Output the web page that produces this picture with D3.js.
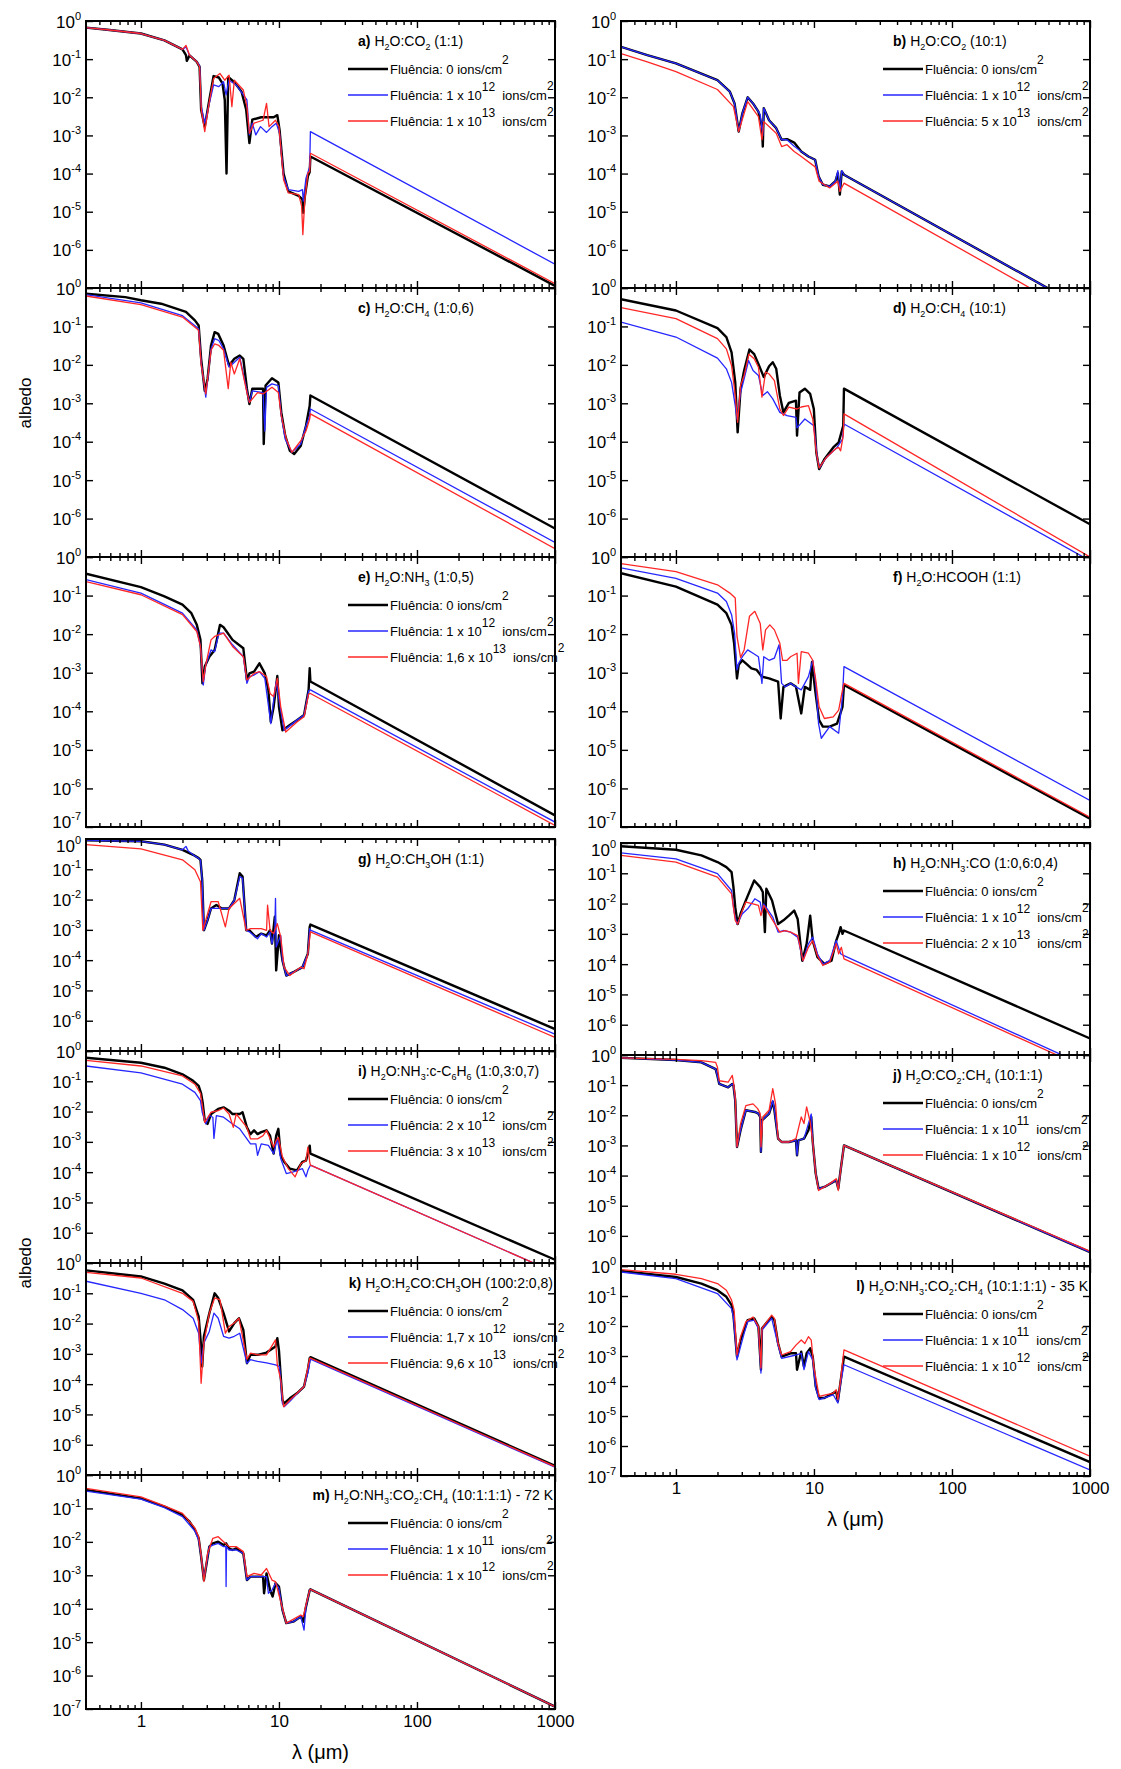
<!DOCTYPE html>
<html>
<head>
<meta charset="utf-8">
<script src="https://cdn.jsdelivr.net/npm/d3@7"></script>
<style>
  body { margin: 0; background: #fff; }
  svg { font-family: "Liberation Sans", Arial, Helvetica, sans-serif; }
  .frame { fill: none; stroke: #000; stroke-width: 2; }
  .ticks .domain { display: none; }
  .ticks line { stroke: #000; stroke-width: 1.4; }
  .series { fill: none; stroke-linejoin: round; }
</style>
</head>
<body>
<svg id="chart" width="1121" height="1769"></svg>
<script>
// [wavelength (um), albedo]
const aBlack = [[0.4,0.67],[0.57,0.59],[1.0,0.47],[1.48,0.31],[2.0,0.18],[2.12,0.127],[2.15,0.09],[2.25,0.125],[2.54,0.085],[2.66,0.063],[2.73,0.0047],[2.9,0.0017],[3.13,0.0085],[3.36,0.036],[3.67,0.033],[3.9,0.023],[4.05,0.0085],[4.17,1.0e-4],[4.29,0.034],[4.75,0.025],[5.36,0.014],[5.79,0.0047],[6.11,6.3e-4],[6.41,0.0026],[7.44,0.003],[9.15,0.003],[9.73,0.0034],[10.1,0.0014],[10.8,1.0e-4],[11.7,3.4e-5],[13.9,2.6e-5],[14.8,2.1e-5],[15.0,9.3e-6],[15.4,2.5e-5],[16.2,8.5e-5],[16.7,1.1e-4],[16.9,2.8e-4],[1000,1.14e-7]];
const aBlue = [[0.4,0.67],[0.57,0.59],[1.0,0.47],[1.48,0.31],[2.0,0.18],[2.12,0.21],[2.25,0.127],[2.54,0.085],[2.66,0.07],[2.74,0.0057],[2.9,0.0021],[3.13,0.0069],[3.36,0.021],[3.67,0.019],[3.97,0.0255],[4.14,0.0115],[4.35,0.028],[4.9,0.021],[5.52,0.0115],[5.86,0.0085],[6.11,0.00103],[6.41,0.0021],[6.8,0.00103],[7.35,0.0017],[8.13,0.0012],[8.9,0.0017],[9.55,0.0021],[10.1,0.00114],[10.8,8.5e-5],[11.7,3.8e-5],[13.9,3.4e-5],[14.8,3.8e-5],[15.0,1.9e-5],[15.7,7.6e-5],[16.7,1.5e-4],[16.9,1.26e-3],[1000,4.2e-7]];
const aRed = [[0.4,0.67],[0.57,0.59],[1.0,0.47],[1.48,0.31],[2.0,0.18],[2.12,0.23],[2.25,0.127],[2.54,0.085],[2.66,0.063],[2.74,0.0047],[2.9,0.00126],[3.13,0.0077],[3.36,0.031],[3.74,0.042],[4.05,0.028],[4.35,0.038],[4.56,0.0057],[4.75,0.028],[5.52,0.0155],[5.86,0.0057],[6.11,0.00114],[6.6,0.0021],[7.67,0.0025],[8.13,0.0069],[8.48,0.0017],[9.44,0.0025],[10.0,0.0017],[10.8,6.9e-5],[11.7,3.1e-5],[13.9,2.8e-5],[14.6,1.4e-5],[14.9,2.5e-6],[15.4,2.1e-5],[16.2,1.03e-4],[16.7,1.14e-4],[16.9,3.4e-4],[1000,1.3e-7]];

const bBlack = [[0.4,0.21],[0.62,0.127],[1.0,0.077],[2.0,0.028],[2.46,0.014],[2.66,0.0069],[2.85,0.00126],[3.03,0.0038],[3.31,0.01],[3.62,0.0069],[3.96,0.0042],[4.2,0.0017],[4.26,5.1e-4],[4.33,0.0052],[4.73,0.0025],[5.33,0.00155],[5.83,7.7e-4],[6.38,8e-4],[7.19,6.5e-4],[8.09,3.8e-4],[9.12,2.8e-4],[10.2,2.3e-4],[10.8,8.5e-5],[11.6,5.1e-5],[13.0,4.6e-5],[14.3,6.3e-5],[14.9,1.03e-4],[15.4,2.8e-5],[15.9,1.14e-4],[16.5,9.3e-5],[1000,2.4e-8]];
const bBlue = [[0.4,0.21],[0.62,0.127],[1.0,0.077],[2.0,0.028],[2.46,0.014],[2.66,0.0069],[2.85,0.00126],[3.03,0.0038],[3.31,0.01],[3.62,0.0069],[3.96,0.0042],[4.08,0.0035],[4.2,0.0015],[4.26,0.001],[4.33,0.0052],[4.73,0.0025],[5.33,0.00155],[5.83,7.7e-4],[6.38,7.7e-4],[7.19,5.2e-4],[8.09,3.8e-4],[9.12,2.8e-4],[10.2,2.3e-4],[10.8,8.5e-5],[11.6,5.1e-5],[13.0,4.6e-5],[14.3,6.3e-5],[14.9,1.2e-4],[15.4,3.5e-5],[15.9,1.2e-4],[16.5,9.3e-5],[1000,2.4e-8]];
const bRed = [[0.4,0.14],[0.62,0.085],[1.0,0.047],[2.0,0.016],[2.61,0.0057],[2.85,0.00126],[3.31,0.0077],[3.96,0.0031],[4.2,7.7e-4],[4.33,0.0023],[5.33,0.00114],[5.83,5.1e-4],[6.38,5.7e-4],[7.19,3.8e-4],[8.09,2.8e-4],[10.2,1.5e-4],[10.9,6.3e-5],[13.0,4.2e-5],[14.9,6.3e-5],[15.4,3.4e-5],[16.5,5.6e-5],[1000,1.3e-8]];

const cBlack = [[0.4,0.71],[0.77,0.58],[1.0,0.48],[1.4,0.39],[2.12,0.24],[2.46,0.144],[2.62,0.106],[2.73,0.0144],[2.9,0.0021],[3.04,0.0043],[3.22,0.032],[3.42,0.071],[3.63,0.064],[3.97,0.032],[4.35,0.0096],[4.75,0.0144],[5.2,0.0175],[5.52,0.0144],[5.86,0.0024],[6.11,0.00096],[6.41,0.0024],[7.0,0.0024],[7.67,0.0024],[7.76,8.7e-5],[8.0,0.0029],[8.9,0.0045],[9.9,0.0035],[10.4,5.8e-4],[11.1,1.44e-4],[12.0,5.8e-5],[12.9,4.8e-5],[14.4,7.9e-5],[15.7,2.6e-4],[16.7,8.7e-4],[16.9,1.6e-3],[1000,5.5e-7]];
const cBlue = [[0.4,0.67],[1.0,0.41],[2.0,0.19],[2.62,0.087],[2.73,0.0117],[2.95,0.00144],[3.22,0.026],[3.42,0.048],[3.67,0.043],[3.97,0.026],[4.35,0.0087],[5.2,0.0158],[5.86,0.0021],[6.11,0.00106],[6.41,0.0021],[7.67,0.0019],[7.9,1.9e-4],[8.13,0.0026],[8.9,0.0032],[9.9,0.0029],[10.4,4.8e-4],[11.1,1.17e-4],[12.4,5.3e-5],[14.4,8.7e-5],[15.7,2.6e-4],[16.7,4.8e-4],[16.9,7.1e-4],[1000,2.4e-7]];
const cRed = [[0.4,0.62],[1.0,0.37],[2.0,0.175],[2.62,0.079],[2.73,0.0106],[2.95,0.00175],[3.22,0.024],[3.42,0.035],[3.67,0.032],[3.97,0.024],[4.29,0.0024],[4.48,0.0117],[4.75,0.0058],[5.2,0.0144],[5.86,0.0019],[6.11,0.00106],[7.0,0.0019],[7.67,0.00175],[8.9,0.0026],[9.9,0.0019],[10.4,4.8e-4],[11.3,1.17e-4],[12.4,5.3e-5],[14.4,1.06e-4],[15.7,1.9e-4],[16.7,3.9e-4],[16.9,5.3e-4],[1000,1.65e-7]];

const dBlack = [[0.4,0.51],[1.0,0.26],[2.0,0.09],[2.32,0.053],[2.53,0.021],[2.69,0.0035],[2.8,1.75e-4],[2.94,0.0024],[3.12,0.0071],[3.41,0.025],[3.69,0.019],[3.96,0.0106],[4.33,0.0048],[4.73,0.0092],[5.03,0.0117],[5.33,0.0079],[5.66,0.0016],[6.01,5.8e-4],[6.58,0.00102],[7.41,0.00117],[7.54,1.44e-4],[7.86,0.0019],[8.59,0.0024],[9.39,0.00175],[9.98,7.1e-4],[10.4,5.3e-5],[10.9,1.94e-5],[11.9,3.5e-5],[13.8,7.1e-5],[15.1,9.6e-5],[16.3,2.6e-4],[16.5,0.0024],[1000,7.1e-7]];
const dBlue = [[0.4,0.13],[1.0,0.053],[2.0,0.015],[2.32,0.0079],[2.53,0.0035],[2.69,8.7e-4],[2.77,3.9e-4],[2.94,0.0019],[3.12,0.0043],[3.36,0.013],[3.62,0.0071],[3.96,0.0053],[4.26,0.0016],[4.6,0.002],[5.03,0.0013],[5.66,5.8e-4],[6.38,4.8e-4],[7.41,4.3e-4],[7.54,2.3e-4],[8.59,3.9e-4],[9.98,2.6e-4],[10.6,3.5e-5],[11.0,2.1e-5],[12.3,3.9e-5],[14.7,7.1e-5],[16.1,1.17e-4],[16.5,2.9e-4],[1000,8e-8]];
const dRed = [[0.4,0.31],[1.0,0.16],[2.0,0.048],[2.32,0.026],[2.53,0.0096],[2.69,0.0016],[2.8,3.2e-4],[2.94,0.0029],[3.12,0.0053],[3.38,0.019],[3.69,0.0144],[3.96,0.0087],[4.2,0.00144],[4.46,0.0065],[4.73,0.0058],[5.17,0.0039],[5.66,7.1e-4],[6.01,4.8e-4],[6.58,8e-4],[7.54,7.1e-4],[8.09,8e-4],[9.12,8.7e-4],[9.8,3.9e-4],[10.4,5.3e-5],[10.9,2.1e-5],[12.3,3.9e-5],[14.3,6.5e-5],[15.1,7.1e-5],[15.6,5.8e-5],[16.3,1.44e-4],[16.5,5.3e-4],[1000,1.0e-7]];

const eBlack = [[0.4,0.37],[1.0,0.166],[1.48,0.095],[2.0,0.058],[2.32,0.035],[2.54,0.0174],[2.7,0.0071],[2.79,5.3e-4],[2.9,0.00144],[3.13,0.0026],[3.42,0.0039],[3.74,0.0174],[3.97,0.0151],[4.61,0.0071],[5.52,0.0043],[5.86,6.5e-4],[6.11,9.6e-4],[6.6,0.00107],[7.22,0.00175],[7.9,9.6e-4],[8.38,3.6e-4],[8.73,5.3e-5],[9.15,1.31e-4],[9.73,8.2e-4],[10.0,1.31e-4],[10.6,3.2e-5],[12.0,4.4e-5],[13.5,5.9e-5],[15.2,8e-5],[16.4,3.6e-4],[16.7,1.3e-3],[16.9,5.9e-4],[1000,2e-7]];
const eBlue = [[0.4,0.26],[1.0,0.116],[2.0,0.035],[2.54,0.0129],[2.7,0.0048],[2.83,4.8e-4],[2.95,0.0016],[3.22,0.0039],[3.42,0.0035],[3.67,0.0106],[3.97,0.0106],[4.61,0.0053],[5.52,0.0026],[5.86,5.3e-4],[6.11,7.9e-4],[6.6,8.7e-4],[7.22,0.00107],[7.9,7.1e-4],[8.73,4.8e-5],[9.15,1.9e-4],[9.55,5.9e-4],[10.1,1.6e-4],[10.9,3.2e-5],[13.5,5.9e-5],[15.2,8e-5],[16.4,3.4e-4],[16.9,3.6e-4],[1000,1.34e-7]];
const eRed = [[0.4,0.23],[1.0,0.105],[2.0,0.032],[2.54,0.0117],[2.7,0.0048],[2.83,5.9e-4],[2.95,0.0016],[3.22,0.0071],[3.42,0.0087],[3.67,0.0096],[3.97,0.0106],[4.61,0.0048],[5.52,0.0026],[5.86,6.5e-4],[6.6,9.6e-4],[7.22,0.00107],[8.13,7.9e-4],[8.62,2.9e-4],[9.15,2.4e-4],[9.73,7.1e-4],[10.3,1.31e-4],[11.2,2.9e-5],[13.5,5.3e-5],[15.2,7.2e-5],[16.4,2.8e-4],[16.9,2.9e-4],[1000,1.1e-7]];

const fBlack = [[0.4,0.38],[1.0,0.17],[2.0,0.058],[2.32,0.035],[2.53,0.0174],[2.64,0.0058],[2.77,7.1e-4],[2.85,0.0016],[3.03,0.0021],[3.21,0.00175],[3.52,0.0013],[3.85,0.00118],[4.2,7.9e-4],[4.73,7.1e-4],[5.5,5.9e-4],[5.74,6.5e-5],[6.01,4.3e-4],[6.77,5.3e-4],[7.41,4.3e-4],[8.09,8.8e-5],[8.59,4.3e-4],[9.39,3.6e-4],[9.68,0.0019],[10.2,3.6e-4],[10.9,5.9e-5],[11.6,4e-5],[13.0,4e-5],[14.7,4.8e-5],[16.1,1.31e-4],[16.5,4.8e-4],[1000,1.64e-7]];
const fBlue = [[0.4,0.52],[1.0,0.28],[2.0,0.116],[2.32,0.07],[2.53,0.032],[2.66,0.0106],[2.77,0.00118],[2.85,0.00175],[3.03,0.0026],[3.31,0.0039],[3.62,0.0032],[3.96,0.0026],[4.2,5.3e-4],[4.33,0.0026],[4.73,0.0021],[5.17,0.0024],[5.59,0.0053],[5.83,5.3e-4],[6.19,4.3e-4],[6.77,5.3e-4],[7.41,4.3e-4],[8.09,3.6e-4],[9.12,7.9e-4],[9.8,0.0021],[10.3,5.3e-4],[10.8,4.8e-5],[11.3,2e-5],[13.0,4e-5],[15.1,2.7e-5],[16.1,2.4e-4],[16.5,0.00144],[1000,4.9e-7]];
const fRed = [[0.4,0.67],[1.0,0.42],[2.0,0.19],[2.46,0.116],[2.69,0.086],[2.77,0.0087],[2.94,0.0025],[3.12,0.0039],[3.41,0.029],[3.73,0.039],[4.08,0.019],[4.26,0.0039],[4.46,0.0129],[4.79,0.0174],[5.17,0.0129],[5.66,0.0058],[5.93,0.0021],[6.38,0.0021],[6.77,0.0026],[7.54,0.0032],[7.72,5.3e-4],[8.09,0.0035],[9.12,0.0032],[9.8,0.0021],[10.3,6.5e-4],[10.9,1.31e-4],[11.9,6.5e-5],[13.8,7.2e-5],[15.1,1.07e-4],[16.1,3.6e-4],[16.5,5.3e-4],[1000,1.8e-7]];

const gBlack = [[0.4,0.9],[1.0,0.84],[1.48,0.65],[2.0,0.44],[2.39,0.3],[2.62,0.234],[2.7,0.206],[2.78,0.045],[2.86,9.7e-4],[3.04,0.0021],[3.22,0.0051],[3.52,0.0066],[3.86,0.0051],[4.35,0.0051],[4.75,0.0096],[5.2,0.074],[5.45,0.058],[5.79,9.7e-4],[6.11,9.7e-4],[6.8,5.8e-4],[7.44,7.5e-4],[8.13,6.6e-4],[8.62,9.7e-4],[8.9,3.5e-4],[9.33,0.0027],[9.55,4.6e-5],[10.0,6.6e-4],[10.6,9.8e-5],[11.3,3.1e-5],[12.7,4e-5],[14.8,5.9e-5],[16.2,1.63e-4],[16.7,1.26e-3],[16.9,1.5e-3],[1000,5.3e-7]];
const gBlue = [[0.4,0.9],[1.0,0.84],[1.48,0.65],[2.0,0.44],[2.12,0.57],[2.2,0.4],[2.39,0.3],[2.62,0.23],[2.7,0.2],[2.78,0.045],[2.86,9.7e-4],[3.04,0.0021],[3.22,0.0051],[3.42,0.0051],[3.86,0.0051],[4.35,0.0051],[4.75,0.0096],[5.2,0.058],[5.45,0.05],[5.79,9.7e-4],[6.11,8.6e-4],[7.0,5.1e-4],[7.44,7.5e-4],[8.13,5.8e-4],[8.62,8.6e-4],[8.9,3.5e-4],[9.33,9.7e-4],[9.44,0.011],[9.55,2.7e-4],[10.3,6.6e-4],[10.6,9.8e-5],[11.3,3.1e-5],[12.7,4e-5],[14.8,5.9e-5],[16.2,1.63e-4],[16.7,1.1e-3],[16.9,9.8e-4],[1000,3.6e-7]];
const gRed = [[0.4,0.65],[1.0,0.47],[2.0,0.206],[2.46,0.096],[2.7,0.039],[2.81,9.7e-4],[2.95,0.0021],[3.22,0.0085],[3.63,0.0085],[4.09,0.00126],[4.35,0.0051],[5.2,0.011],[5.79,9.7e-4],[6.22,0.0011],[7.44,0.0011],[8.13,9.7e-4],[8.27,0.0066],[8.62,9.7e-4],[9.15,7.5e-4],[9.73,0.0016],[10.3,5.8e-4],[10.9,5.9e-5],[12.0,3.1e-5],[14.4,5.9e-5],[15.2,5.2e-5],[16.2,1.63e-4],[16.9,8.6e-4],[1000,2.8e-7]];

const hBlack = [[0.4,0.78],[1.0,0.6],[1.53,0.39],[2.0,0.235],[2.32,0.16],[2.53,0.11],[2.61,0.035],[2.69,0.0076],[2.8,0.0021],[2.94,0.0046],[3.21,0.0127],[3.69,0.058],[4.08,0.035],[4.26,0.024],[4.41,0.00114],[4.52,0.031],[4.97,0.0127],[5.5,0.0021],[6.01,0.0028],[6.58,0.004],[7.19,0.0059],[7.62,0.0031],[8.23,1.3e-4],[8.85,4.7e-4],[9.39,0.004],[9.8,6e-4],[10.6,1.7e-4],[11.9,1.02e-4],[13.4,1.3e-4],[14.5,6e-4],[15.1,0.001],[15.6,0.00167],[16.1,0.001],[16.5,0.00129],[1000,3.5e-7]];
const hBlue = [[0.4,0.47],[1.0,0.3],[2.0,0.097],[2.53,0.027],[2.64,0.0052],[2.77,0.0021],[3.03,0.0046],[3.31,0.0067],[3.73,0.0144],[4.08,0.0112],[4.2,0.0052],[4.33,0.0098],[5.03,0.0036],[5.5,0.00114],[6.01,0.00129],[6.77,0.00114],[7.62,7.8e-4],[8.33,1.3e-4],[9.12,4.7e-4],[9.8,7.8e-4],[10.6,2.2e-4],[11.6,1.02e-4],[13.0,1.3e-4],[14.5,6e-4],[14.9,4.1e-4],[15.6,2.2e-4],[16.5,1.9e-4],[1000,3.8e-8]];
const hRed = [[0.4,0.39],[1.0,0.235],[2.0,0.075],[2.53,0.021],[2.69,0.0028],[2.8,0.0021],[3.03,0.0059],[3.21,0.0112],[3.62,0.0098],[3.96,0.0087],[4.13,0.004],[4.33,0.0087],[5.03,0.0028],[5.66,0.00114],[6.19,0.00129],[6.77,0.00114],[7.62,8.8e-4],[8.33,1.3e-4],[9.12,3.6e-4],[9.8,6e-4],[10.6,1.9e-4],[11.6,9e-5],[13.0,1.16e-4],[14.5,4.7e-4],[15.1,2.2e-4],[15.8,3.6e-4],[16.5,1.5e-4],[1000,3.2e-8]];

const iBlack = [[0.4,0.6],[1.0,0.41],[1.48,0.28],[2.0,0.17],[2.39,0.104],[2.62,0.071],[2.73,0.04],[2.8,0.02],[2.9,0.005],[3.04,0.0039],[3.22,0.0083],[3.63,0.0122],[3.97,0.0138],[4.35,0.0107],[4.61,0.0083],[4.9,0.0083],[5.2,0.0083],[5.45,0.0095],[5.86,0.003],[6.22,0.0018],[6.6,0.0024],[7.0,0.0018],[7.44,0.0021],[8.13,0.0024],[8.62,0.0016],[9.15,4.1e-4],[9.55,0.0016],[9.9,0.0027],[10.3,3.6e-4],[10.9,2.2e-4],[12.0,1.3e-4],[13.5,1.15e-4],[14.8,2.2e-4],[15.7,2.4e-4],[16.2,4.1e-4],[16.7,7.5e-4],[16.9,4.1e-4],[1000,1.28e-7]];
const iBlue = [[0.4,0.32],[1.0,0.19],[2.0,0.08],[2.46,0.043],[2.7,0.023],[2.78,0.0095],[2.95,0.0039],[3.13,0.0074],[3.32,0.0065],[3.38,0.0013],[3.52,0.0074],[3.97,0.0065],[4.61,0.0039],[5.2,0.0027],[5.86,0.00126],[6.22,8.6e-4],[6.8,8.6e-4],[7.0,3.6e-4],[7.44,8.6e-4],[8.38,7.6e-4],[9.15,4.1e-4],[9.73,0.00126],[10.3,2.8e-4],[11.3,9e-5],[12.7,1.02e-4],[14.8,1.3e-4],[15.7,7e-5],[16.2,1.15e-4],[16.9,1.7e-4],[1000,4.9e-8]];
const iRed = [[0.4,0.49],[1.0,0.32],[2.0,0.15],[2.46,0.08],[2.7,0.04],[2.83,0.01],[2.9,0.0044],[3.22,0.0095],[3.63,0.0107],[3.97,0.0131],[4.35,0.0083],[4.67,0.003],[4.9,0.0083],[5.86,0.003],[6.22,0.00126],[7.0,0.00126],[7.67,0.0016],[8.13,0.0024],[8.62,0.00126],[9.15,6.7e-4],[9.55,0.00111],[9.9,0.0014],[10.6,3.2e-4],[11.7,1.3e-4],[13.1,7e-5],[14.4,1.9e-4],[15.7,2.4e-4],[16.2,6.7e-4],[16.7,2.2e-4],[16.9,1.7e-4],[1000,4.9e-8]];

const jBlack = [[0.4,0.8],[1.0,0.68],[1.53,0.57],[1.94,0.34],[2.0,0.2],[2.06,0.11],[2.39,0.085],[2.56,0.11],[2.61,0.099],[2.69,0.031],[2.77,8.9e-4],[2.94,0.0032],[3.21,0.0147],[3.73,0.0129],[3.96,0.0114],[4.08,0.0088],[4.13,6.1e-4],[4.2,0.0068],[4.73,0.0114],[5.03,0.028],[5.17,0.0147],[5.5,0.00168],[5.83,0.0013],[6.58,0.0013],[7.41,0.00148],[7.54,4.7e-4],[7.72,0.00148],[8.47,0.00168],[9.12,0.0032],[9.56,0.0088],[9.8,0.0013],[10.3,1.16e-4],[10.8,3.7e-5],[11.9,4.2e-5],[13.8,6.1e-5],[14.5,7e-5],[15.0,3.7e-5],[15.6,1.5e-4],[16.5,1e-3],[1000,2.9e-7]];
const jBlue = [[0.4,0.8],[1.0,0.68],[1.53,0.57],[1.94,0.34],[2.0,0.2],[2.06,0.11],[2.39,0.085],[2.56,0.11],[2.61,0.099],[2.69,0.031],[2.77,8.9e-4],[2.94,0.0032],[3.21,0.0147],[3.73,0.0129],[3.96,0.0114],[4.08,0.0088],[4.13,6.1e-4],[4.2,0.0068],[4.73,0.0114],[5.03,0.031],[5.17,0.0147],[5.5,0.00168],[5.83,0.0013],[6.58,0.0013],[7.41,0.00148],[7.54,4.7e-4],[7.72,0.00148],[8.47,0.00168],[9.12,0.0053],[9.56,0.011],[9.8,0.0013],[10.3,1.16e-4],[10.8,3.7e-5],[11.9,4.2e-5],[13.8,6.1e-5],[14.5,7e-5],[15.0,3.7e-5],[15.6,1.5e-4],[16.5,1e-3],[1000,2.9e-7]];
const jRed = [[0.4,0.8],[1.0,0.72],[1.53,0.65],[1.94,0.57],[2.0,0.39],[2.06,0.14],[2.39,0.125],[2.56,0.21],[2.61,0.128],[2.69,0.041],[2.77,8.9e-4],[2.94,0.0053],[3.21,0.021],[3.62,0.024],[3.91,0.0166],[4.08,0.0114],[4.13,8.9e-4],[4.26,0.0088],[4.73,0.0147],[5.03,0.077],[5.27,0.024],[5.5,0.00168],[5.83,0.0013],[6.58,0.0013],[7.41,0.00168],[8.09,0.0088],[8.47,0.0053],[8.85,0.019],[9.39,0.006],[9.8,0.0013],[10.3,1.16e-4],[10.8,3.2e-5],[13.0,5.4e-5],[14.5,7.9e-5],[15.0,3.2e-5],[15.6,1.5e-4],[16.5,1e-3],[1000,3.1e-7]];

const kBlack = [[0.4,0.57],[1.0,0.36],[1.48,0.21],[2.0,0.125],[2.39,0.061],[2.62,0.017],[2.73,0.00175],[2.78,3.8e-4],[2.86,0.0038],[3.13,0.022],[3.42,0.1],[3.63,0.07],[3.97,0.022],[4.35,0.0055],[4.75,0.0104],[5.13,0.015],[5.52,0.0062],[5.86,4.9e-4],[6.22,9.3e-4],[7.0,9.3e-4],[8.13,0.0011],[9.44,0.00175],[9.73,0.0033],[10.0,0.0013],[10.3,1.8e-4],[10.6,3e-5],[10.9,2.3e-5],[12.0,3.4e-5],[13.5,5e-5],[15.2,8.3e-5],[16.2,3e-4],[16.7,7.2e-4],[16.9,7.8e-4],[1000,2e-7]];
const kBlue = [[0.4,0.25],[1.0,0.1],[1.48,0.061],[2.0,0.029],[2.39,0.015],[2.62,0.0048],[2.73,4.9e-4],[2.86,0.0023],[3.13,0.0055],[3.38,0.022],[3.63,0.015],[3.97,0.0038],[4.35,0.0033],[4.75,0.0038],[5.2,0.0048],[5.86,4.9e-4],[6.22,6.4e-4],[7.0,5.6e-4],[8.13,5e-4],[9.44,4.3e-4],[10.1,3.8e-4],[10.6,2.3e-5],[10.9,1.8e-5],[12.0,2.7e-5],[15.2,8.5e-5],[16.2,2.3e-4],[16.9,6.7e-4],[1000,1.8e-7]];
const kRed = [[0.4,0.49],[1.0,0.32],[2.0,0.1],[2.39,0.054],[2.62,0.0118],[2.73,1.07e-4],[2.86,0.0023],[3.13,0.022],[3.42,0.07],[3.74,0.061],[4.09,0.0048],[4.35,0.008],[4.75,0.0104],[5.13,0.015],[5.86,6.7e-4],[6.22,1.05e-3],[7.0,9.3e-4],[8.13,9.3e-4],[9.44,0.0029],[9.73,4.3e-4],[10.3,1.4e-4],[10.8,1.8e-5],[12.0,3e-5],[15.2,8.3e-5],[16.7,7.2e-4],[16.9,7.2e-4],[1000,1.9e-7]];

const lBlack = [[0.4,0.68],[1.0,0.43],[1.53,0.26],[2.0,0.156],[2.32,0.094],[2.53,0.05],[2.61,0.023],[2.77,9.5e-4],[2.94,0.0034],[3.12,0.0073],[3.31,0.0157],[3.69,0.018],[3.96,0.0095],[4.13,3.5e-4],[4.2,0.0083],[4.6,0.0139],[4.94,0.02],[5.17,0.0157],[5.5,0.0026],[5.83,9.5e-4],[6.77,0.00123],[7.41,0.00123],[7.54,3.5e-4],[8.09,0.0014],[8.47,4.4e-4],[8.85,0.00123],[9.39,0.0018],[9.8,9.5e-4],[10.3,9.7e-5],[10.9,4e-5],[11.9,4e-5],[13.8,5.8e-5],[14.5,6.6e-5],[14.9,3.1e-5],[15.6,1.41e-4],[16.5,9.5e-4],[1000,2.9e-7]];
const lBlue = [[0.4,0.63],[1.0,0.38],[2.0,0.121],[2.53,0.038],[2.61,0.02],[2.77,7.4e-4],[3.12,0.0057],[3.31,0.0139],[3.69,0.0157],[3.96,0.0083],[4.13,2.7e-4],[4.2,0.0073],[4.94,0.018],[5.5,0.0023],[5.83,8.4e-4],[7.41,0.00108],[8.09,0.00123],[8.47,3.5e-4],[9.12,0.0014],[9.8,7.4e-4],[10.3,8.5e-5],[10.9,3.5e-5],[13.8,5.1e-5],[14.9,2.7e-5],[15.6,1.25e-4],[16.5,5.1e-4],[1000,1.6e-7]];
const lRed = [[0.4,0.76],[1.0,0.53],[1.53,0.38],[2.0,0.26],[2.32,0.156],[2.53,0.073],[2.64,0.034],[2.77,1.08e-3],[2.94,0.0044],[3.21,0.0139],[3.62,0.02],[3.96,0.0095],[4.13,4e-4],[4.2,0.0083],[4.94,0.023],[5.17,0.018],[5.5,0.0026],[5.83,0.00108],[6.77,0.0014],[7.41,0.0023],[8.09,0.0034],[8.59,0.0026],[9.12,0.0044],[9.56,0.0034],[9.98,4.4e-4],[10.9,4.5e-5],[13.8,5.8e-5],[14.5,7.5e-5],[14.9,3.5e-5],[15.6,1.6e-4],[16.5,1.6e-3],[1000,4.6e-7]];

const mBlack = [[0.4,0.36],[1.0,0.2],[1.48,0.113],[2.0,0.064],[2.25,0.04],[2.46,0.023],[2.62,0.0128],[2.73,0.0036],[2.86,7.2e-4],[2.95,0.0016],[3.13,0.0072],[3.32,0.009],[3.63,0.0101],[3.97,0.008],[4.14,0.009],[4.35,0.0064],[4.61,0.0057],[4.9,0.0064],[5.52,0.0045],[5.86,7.2e-4],[6.22,9.1e-4],[7.0,9.1e-4],[7.67,9.1e-4],[7.8,2.9e-4],[8.13,0.00114],[8.62,3.6e-4],[9.0,2.3e-4],[9.44,5.8e-4],[10.0,4.6e-4],[10.6,9.2e-5],[11.3,3.7e-5],[12.7,4.1e-5],[14.4,5.8e-5],[15.0,4.1e-5],[15.7,1.15e-4],[16.7,3.6e-4],[16.9,3.8e-4],[1000,1.18e-7]];
const mBlue = [[0.4,0.33],[1.0,0.19],[1.48,0.105],[2.0,0.057],[2.46,0.021],[2.62,0.0114],[2.73,0.0036],[2.86,8.1e-4],[2.95,0.0016],[3.13,0.0072],[3.32,0.008],[3.63,0.009],[3.97,0.0072],[4.12,0.0072],[4.14,4.6e-4],[4.17,0.0072],[4.35,0.0057],[4.9,0.0057],[5.52,0.0045],[5.86,7.2e-4],[6.22,9.1e-4],[7.67,9.1e-4],[8.13,9.1e-4],[8.38,2.9e-4],[8.9,3.6e-4],[9.44,5.8e-4],[10.0,4.1e-4],[10.6,9.2e-5],[11.3,3.7e-5],[12.7,4.1e-5],[14.4,5.8e-5],[15.2,2.3e-5],[15.7,1.15e-4],[16.7,3.6e-4],[16.9,3.8e-4],[1000,1.18e-7]];
const mRed = [[0.4,0.4],[1.0,0.22],[1.48,0.12],[2.0,0.071],[2.46,0.026],[2.62,0.0143],[2.73,0.004],[2.86,6.5e-4],[3.04,0.0045],[3.32,0.0128],[3.63,0.0143],[3.97,0.0101],[4.35,0.0072],[4.9,0.0072],[5.52,0.0051],[5.86,9.1e-4],[6.6,0.00114],[7.44,0.00102],[8.13,0.0016],[8.9,7.2e-4],[9.44,6.5e-4],[10.6,1.03e-4],[11.3,3.7e-5],[14.4,6.5e-5],[15.0,5.8e-5],[15.7,1.3e-4],[16.7,3.6e-4],[16.9,3.8e-4],[1000,1.18e-7]];

// fluences in the legends: [mantissa, exponent] in ions/cm2
const fluenceA = [['0'], ['1', '12'], ['1', '13']];
const fluenceB = [['0'], ['1', '12'], ['5', '13']];
const fluenceE = [['0'], ['1', '12'], ['1,6', '13']];
const fluenceH = [['0'], ['1', '12'], ['2', '13']];
const fluenceI = [['0'], ['2', '12'], ['3', '13']];
const fluenceJ = [['0'], ['1', '11'], ['1', '12']];
const fluenceK = [['0'], ['1,7', '12'], ['9,6', '13']];
const fluenceL = [['0'], ['1', '11'], ['1', '12']];
const fluenceM = [['0'], ['1', '11'], ['1', '12']];

const yTickValues = [1, 1e-1, 1e-2, 1e-3, 1e-4, 1e-5, 1e-6, 1e-7];
const xTickValues = [1, 10, 100, 1000];

const panels = [
  {id: 'a', title: 'H_2O:CO_2 (1:1)', data: [aBlack, aBlue, aRed], fluence: fluenceA},
  {id: 'b', title: 'H_2O:CO_2 (10:1)', data: [bBlack, bBlue, bRed], fluence: fluenceB},
  {id: 'c', title: 'H_2O:CH_4 (1:0,6)', data: [cBlack, cBlue, cRed], fluence: null},
  {id: 'd', title: 'H_2O:CH_4 (10:1)', data: [dBlack, dBlue, dRed], fluence: null},
  {id: 'e', title: 'H_2O:NH_3 (1:0,5)', data: [eBlack, eBlue, eRed], fluence: fluenceE},
  {id: 'f', title: 'H_2O:HCOOH (1:1)', data: [fBlack, fBlue, fRed], fluence: null},
  {id: 'g', title: 'H_2O:CH_3OH (1:1)', data: [gBlack, gBlue, gRed], fluence: null},
  {id: 'h', title: 'H_2O:NH_3:CO (1:0,6:0,4)', data: [hBlack, hBlue, hRed], fluence: fluenceH},
  {id: 'i', title: 'H_2O:NH_3:c-C_6H_6 (1:0,3:0,7)', data: [iBlack, iBlue, iRed], fluence: fluenceI},
  {id: 'j', title: 'H_2O:CO_2:CH_4 (10:1:1)', data: [jBlack, jBlue, jRed], fluence: fluenceJ},
  {id: 'k', title: 'H_2O:H_2CO:CH_3OH (100:2:0,8)', data: [kBlack, kBlue, kRed], fluence: fluenceK},
  {id: 'l', title: 'H_2O:NH_3:CO_2:CH_4 (10:1:1:1) - 35 K', data: [lBlack, lBlue, lRed], fluence: fluenceL},
  {id: 'm', title: 'H_2O:NH_3:CO_2:CH_4 (10:1:1:1) - 72 K', data: [mBlack, mBlue, mRed], fluence: fluenceM}
];

// layout of the grid (pixels)
const columns = [[86, 555], [621, 1090]];
const boxes = {
  a: {col: 0, top: 21, bottom: 288}, b: {col: 1, top: 21, bottom: 288},
  c: {col: 0, top: 288, bottom: 557}, d: {col: 1, top: 288, bottom: 557},
  e: {col: 0, top: 557, bottom: 827}, f: {col: 1, top: 557, bottom: 827},
  g: {col: 0, top: 839, bottom: 1051}, h: {col: 1, top: 843, bottom: 1055},
  i: {col: 0, top: 1051, bottom: 1263}, j: {col: 1, top: 1055, bottom: 1266},
  k: {col: 0, top: 1263, bottom: 1475}, l: {col: 1, top: 1266, bottom: 1476},
  m: {col: 0, top: 1475, bottom: 1709}
};
const seriesStyle = [
  {color: '#000000', width: 2.4},
  {color: '#2626ff', width: 1.3},
  {color: '#ff2626', width: 1.3}
];

const svg = d3.select('#chart');

const minorTicks = [];
[0.1, 1, 10, 100].forEach(dec => {
  for (let k = 2; k <= 9; k++) {
    const v = k * dec;
    if (v > 0.4 && v < 1000) minorTicks.push(v);
  }
});

const drawPanel = (p) => {
  const box = boxes[p.id];
  const [x0, x1] = columns[box.col];
  const g = svg.append('g').attr('class', 'panel');

  const x = d3.scaleLog().domain([0.4, 1000]).range([x0, x1]);
  const y = d3.scaleLog().domain([1e-7, 1]).range([box.bottom, box.top]);

  const others = Object.values(boxes).filter(o => o.col === box.col && o !== box);
  // a panel directly below hides this panel's 10^-7 label
  const hasBelow = others.some(o => Math.abs(o.top - box.bottom) < 3);
  const gapBelow = !hasBelow && others.some(o => o.top > box.bottom);
  const gapAbove = others.some(o => o.bottom < box.top && box.top - o.bottom < 20);
  const isBottom = !others.some(o => o.top > box.top);

  g.append('clipPath').attr('id', `clip-${p.id}`)
    .append('rect')
    .attr('x', x0).attr('y', box.top)
    .attr('width', x1 - x0).attr('height', box.bottom - box.top);

  const line = d3.line().x(d => x(d[0])).y(d => y(d[1]));
  g.append('g').attr('clip-path', `url(#clip-${p.id})`)
    .selectAll('.series')
    .data(p.data)
    .enter()
    .append('path')
    .attr('class', 'series')
    .attr('d', line)
    .attr('stroke', (d, i) => seriesStyle[i].color)
    .attr('stroke-width', (d, i) => seriesStyle[i].width);

  // inward ticks on all four sides
  const tickAxes = [
    [d3.axisBottom(x).tickValues(xTickValues).tickSize(-7), `translate(0,${box.bottom})`],
    [d3.axisBottom(x).tickValues(minorTicks).tickSize(-4), `translate(0,${box.bottom})`],
    [d3.axisTop(x).tickValues(xTickValues).tickSize(-7), `translate(0,${box.top})`],
    [d3.axisTop(x).tickValues(minorTicks).tickSize(-4), `translate(0,${box.top})`],
    [d3.axisRight(y).tickValues(yTickValues).tickSize(-7), `translate(${x1},0)`]
  ];
  tickAxes.forEach(([axis, tr]) => {
    g.append('g').attr('class', 'ticks').attr('transform', tr)
      .call(axis.tickFormat(''));
  });

  const yLabels = hasBelow ? yTickValues.slice(0, -1) : yTickValues;
  const yAxisG = g.append('g').attr('class', 'ticks')
    .attr('transform', `translate(${x0},0)`)
    .call(d3.axisLeft(y).tickValues(yTickValues).tickSize(-7).tickFormat(''));
  yAxisG.selectAll('.tick text')
    .filter(d => yLabels.includes(d))
    .each(function (d) {
      // keep labels apart where two panels are separated by a small gap
      let shift = 0;
      if (d === 1e-7 && gapBelow) shift = -6;
      if (d === 1 && gapAbove) shift = 6;
      const t = d3.select(this)
        .attr('x', -5).attr('y', shift).attr('dy', '0.36em')
        .attr('font-size', 17).attr('fill', '#000')
        .attr('font-family', '"Liberation Sans", Arial, sans-serif');
      t.append('tspan').text('10');
      t.append('tspan').attr('dy', -8).attr('font-size', 11)
        .text(String(Math.round(Math.log10(d))));
    });

  if (isBottom) {
    g.append('g').attr('class', 'ticks')
      .attr('transform', `translate(0,${box.bottom})`)
      .call(d3.axisBottom(x).tickValues(xTickValues).tickSize(0).tickPadding(6).tickFormat(d3.format('d')))
      .call(ax => ax.selectAll('text').attr('font-size', 17).attr('fill', '#000')
        .attr('font-family', '"Liberation Sans", Arial, sans-serif'));
    g.append('text')
      .attr('x', (x0 + x1) / 2)
      .attr('y', box.bottom + 50)
      .attr('text-anchor', 'middle')
      .attr('font-size', 20)
      .text('λ (μm)');
  }

  g.append('rect').attr('class', 'frame')
    .attr('x', x0).attr('y', box.top)
    .attr('width', x1 - x0).attr('height', box.bottom - box.top);

  // title with subscripts, e.g. H_2O -> H2O
  const title = g.append('text').attr('y', box.top + 25).attr('font-size', 14);
  title.append('tspan').attr('font-weight', 'bold').text(p.id + ')');
  let offset = 0;
  p.title.split(/_(\d+)/).forEach((s, i) => {
    const sub = i % 2 === 1;
    const target = sub ? 4 : 0;
    const ts = title.append('tspan')
      .attr('dy', target - offset)
      .attr('font-size', sub ? 9 : 14)
      .text(s);
    if (i === 0) ts.attr('dx', 4);
    offset = target;
  });
  const tw = title.node().getComputedTextLength();
  title.attr('x', Math.min(x0 + 272, x1 - 6 - tw));

  if (p.fluence) {
    p.fluence.forEach((f, i) => {
      const cy = box.top + 48 + i * 26;
      g.append('line')
        .attr('x1', x0 + 262).attr('x2', x0 + 302)
        .attr('y1', cy).attr('y2', cy)
        .attr('stroke', seriesStyle[i].color)
        .attr('stroke-width', seriesStyle[i].width);
      const t = g.append('text')
        .attr('x', x0 + 304).attr('y', cy + 5)
        .attr('font-size', 13);
      if (f.length === 1) {
        t.append('tspan').text(`Fluência: ${f[0]} ions/cm`);
      } else {
        t.append('tspan').text(`Fluência: ${f[0]} x 10`);
        t.append('tspan').attr('dy', -9).attr('font-size', 12).text(f[1]);
        t.append('tspan').attr('dy', 9).attr('dx', 7).text('ions/cm');
      }
      t.append('tspan').attr('dy', -10).attr('font-size', 12).text('2');
    });
  }
};

panels.forEach(drawPanel);

// shared y label, once per block of panels
[403, 1263].forEach(cy => {
  svg.append('text')
    .attr('transform', `translate(31,${cy}) rotate(-90)`)
    .attr('text-anchor', 'middle')
    .attr('font-size', 17)
    .text('albedo');
});
</script>
</body>
</html>
